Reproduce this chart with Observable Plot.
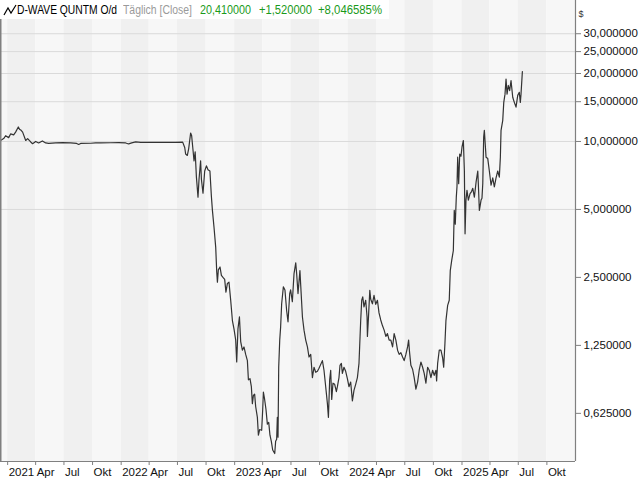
<!DOCTYPE html>
<html>
<head>
<meta charset="utf-8">
<script src="https://cdn.jsdelivr.net/npm/d3@7"></script>
<script src="https://cdn.jsdelivr.net/npm/@observablehq/plot@0.6"></script>
<style>
html, body { margin: 0; padding: 0; background: #fff; }
#wrap { position: relative; width: 640px; height: 480px; overflow: hidden; font-family: "Liberation Sans", Arial, sans-serif; }
#chart { position: absolute; left: 0; top: 0; }
#hdr { position: absolute; left: 0; top: 0; width: 389px; height: 19px; background: #fff; font-size: 12px; }
#hdr span { position: absolute; top: 3px; white-space: nowrap; line-height: 14px; transform-origin: 0 50%; }
#hdr svg { position: absolute; left: 3px; top: 3px; }
svg [aria-label^="y-axis"] line, svg [aria-label="y-axis tick"] path,
svg [aria-label^="x-axis"] line, svg [aria-label="x-axis tick"] path { stroke: #808080; }
</style>
</head>
<body>
<div id="wrap">
  <div id="chart"></div>
  <div id="hdr">
    <svg width="14" height="14" viewBox="0 0 14 14"><polyline points="1,12 5,5 8,10 13,2" fill="none" stroke="#000" stroke-width="1.2"/></svg>
    <span id="hName" style="left:17px;color:#000;"></span>
    <span id="hPeriod" style="left:123px;color:#9a9a9a;"></span>
    <span id="hLast" style="left:200px;color:#1a9a1a;"></span>
    <span id="hChange" style="left:259px;color:#1a9a1a;"></span>
    <span id="hPct" style="left:318px;color:#1a9a1a;"></span>
  </div>
</div>
<script>
// Header texts
const titleName = "D-WAVE QUNTM O/d";
const titlePeriod = "Täglich [Close]";
const lastValue = "20,410000";
const changeAbs = "+1,520000";
const changePct = "+8,046585%";
const currency = "$";

// Series: time as decimal years, daily close in USD
const years = [
2020.938,2020.965,2020.982,2021.009,2021.026,2021.053,2021.070,2021.094,2021.106,2021.115,
2021.132,2021.159,2021.176,2021.203,2021.220,2021.247,2021.273,2021.306,2021.335,2021.361,
2021.423,2021.485,2021.555,2021.608,2021.626,2021.643,2021.731,2021.775,2021.819,2021.908,
2021.978,2022.040,2022.066,2022.093,2022.128,2022.172,2022.260,2022.348,2022.436,2022.480,
2022.542,2022.560,2022.568,2022.583,2022.595,2022.612,2022.621,2022.630,2022.642,2022.652,
2022.663,2022.677,2022.686,2022.700,2022.707,2022.721,2022.736,2022.751,2022.765,2022.782,
2022.795,2022.804,2022.818,2022.833,2022.842,2022.848,2022.856,2022.871,2022.883,2022.897,
2022.912,2022.923,2022.936,2022.950,2022.965,2022.980,2022.994,2023.009,2023.018,2023.029,
2023.042,2023.053,2023.068,2023.082,2023.097,2023.112,2023.121,2023.135,2023.147,2023.156,
2023.165,2023.176,2023.185,2023.200,2023.209,2023.220,2023.238,2023.247,2023.253,2023.264,
2023.276,2023.288,2023.300,2023.311,2023.323,2023.335,2023.353,2023.361,2023.370,2023.376,
2023.382,2023.388,2023.397,2023.405,2023.414,2023.429,2023.443,2023.458,2023.470,2023.485,
2023.493,2023.508,2023.523,2023.538,2023.546,2023.558,2023.575,2023.582,2023.597,2023.611,
2023.626,2023.641,2023.655,2023.670,2023.685,2023.699,2023.714,2023.729,2023.743,2023.773,
2023.787,2023.802,2023.817,2023.826,2023.837,2023.846,2023.855,2023.866,2023.881,2023.896,
2023.905,2023.919,2023.928,2023.940,2023.949,2023.963,2023.978,2023.993,2024.007,2024.022,
2024.037,2024.051,2024.066,2024.081,2024.095,2024.110,2024.119,2024.128,2024.139,2024.154,
2024.166,2024.169,2024.178,2024.190,2024.198,2024.213,2024.227,2024.242,2024.257,2024.271,
2024.286,2024.301,2024.316,2024.331,2024.345,2024.360,2024.375,2024.390,2024.404,2024.419,
2024.434,2024.448,2024.463,2024.478,2024.492,2024.507,2024.522,2024.531,2024.539,2024.551,
2024.566,2024.580,2024.595,2024.610,2024.624,2024.639,2024.654,2024.668,2024.683,2024.698,
2024.712,2024.727,2024.742,2024.756,2024.771,2024.777,2024.786,2024.800,2024.815,2024.830,
2024.839,2024.850,2024.859,2024.874,2024.888,2024.897,2024.910,2024.924,2024.932,2024.941,
2024.950,2024.956,2024.962,2024.971,2024.980,2024.991,2025.000,2025.012,2025.021,2025.027,
2025.035,2025.044,2025.056,2025.071,2025.084,2025.095,2025.109,2025.124,2025.139,2025.144,
2025.153,2025.168,2025.176,2025.183,2025.191,2025.197,2025.212,2025.227,2025.241,2025.256,
2025.271,2025.285,2025.300,2025.315,2025.329,2025.338,2025.344,2025.359,2025.368,2025.379,
2025.388,2025.397,2025.408,2025.420,2025.432,2025.447,2025.461,2025.476,2025.491,2025.505,
2025.514,2025.520,2025.532
];
const closes = [
10.1,10.3,10.6,10.4,10.8,10.7,11.0,11.6,11.3,11.25,
11.0,10.1,10.3,9.95,9.77,10.0,9.85,10.05,9.85,9.8,
9.85,9.88,9.85,9.8,9.7,9.8,9.82,9.85,9.86,9.87,
9.88,9.85,9.75,9.85,9.95,9.9,9.9,9.9,9.9,9.9,
9.93,9.4,8.8,8.67,9.3,10.9,10.6,9.5,8.2,9.0,
6.95,5.67,6.8,8.2,6.8,5.9,7.4,7.8,7.5,7.4,
5.7,4.95,4.17,3.4,2.64,2.38,2.7,2.78,2.55,2.5,
2.45,2.15,2.35,2.38,1.98,1.61,1.48,1.32,1.055,1.48,
1.67,1.3,1.19,1.23,1.14,1.07,0.88,0.89,0.82,0.69,
0.75,0.76,0.67,0.6,0.5,0.53,0.526,0.65,0.776,0.72,
0.65,0.56,0.57,0.5,0.47,0.43,0.415,0.47,0.48,0.6,
0.49,1.0,1.32,1.51,1.91,2.27,2.2,1.78,1.59,2.12,
2.2,1.95,2.6,2.9,2.6,2.12,2.68,2.3,1.67,1.46,
1.32,1.23,1.11,1.14,0.9,1.0,0.95,0.96,0.99,1.07,
0.97,0.82,0.69,0.6,0.88,0.97,0.72,0.85,0.84,0.78,
0.82,0.9,1.02,1.04,0.94,1.0,0.96,0.89,0.82,0.86,
0.71,0.79,0.84,0.9,1.04,1.61,1.98,2.05,1.85,1.98,
1.67,1.37,1.65,2.19,2.0,1.91,2.08,1.9,1.98,1.74,
1.62,1.53,1.46,1.37,1.41,1.32,1.32,1.23,1.41,1.32,
1.19,1.14,1.16,1.11,1.07,1.14,1.23,1.32,1.17,1.02,
0.98,0.9,0.8,0.86,0.97,1.055,1.0,0.94,0.85,1.0,
0.97,0.9,0.97,0.92,0.97,0.87,1.04,1.19,1.19,1.1,
1.0,1.27,1.61,1.88,1.98,2.68,2.98,3.29,4.95,4.3,
5.67,6.3,8.52,6.5,8.8,8.6,9.43,10.1,7.4,3.9,
5.5,6.07,5.5,5.87,6.0,6.2,5.67,6.6,7.4,6.5,
4.95,5.5,5.6,6.5,10.45,11.2,8.52,8.4,7.4,6.4,
6.9,6.3,6.9,7.4,6.95,8.52,11.2,12.4,14.9,16.2,
18.9,16.2,17.7,16.8,18.6,15.7,14.9,14.2,16.0,16.5,
14.9,16.2,20.41
];

// Axis ticks and labels
const xTickDates = ["2021-01-01","2021-04-01","2021-07-01","2021-10-01",
  "2022-01-01","2022-04-01","2022-07-01","2022-10-01",
  "2023-01-01","2023-04-01","2023-07-01","2023-10-01",
  "2024-01-01","2024-04-01","2024-07-01","2024-10-01",
  "2025-01-01","2025-04-01","2025-07-01","2025-10-01"];
const xTickLabels = ["2021","Apr","Jul","Okt","2022","Apr","Jul","Okt",
  "2023","Apr","Jul","Okt","2024","Apr","Jul","Okt","2025","Apr","Jul","Okt"];
const yTicks = [0.625, 1.25, 2.5, 5, 10, 15, 20, 25, 30];
const yTickLabels = ["0,625000","1,250000","2,500000","5,000000","10,000000","15,000000","20,000000","25,000000","30,000000"];
const gridValues = [5, 10, 15, 20, 25, 30];
const quarterEdges = ["2020-10-01", ...xTickDates, "2026-01-01"];
const xDomain = ["2020-12-09", "2026-01-01"];
const yDomain = [0.3825, 42.1];

// header
const headerParts = [
  ["hName", titleName, 100],
  ["hPeriod", titlePeriod, 69],
  ["hLast", lastValue, 51],
  ["hChange", changeAbs, 53],
  ["hPct", changePct, 64]
];
for (const [id, txt, w] of headerParts) {
  const el = document.getElementById(id);
  el.textContent = txt;
  const natural = el.getBoundingClientRect().width;
  if (natural > 0) el.style.transform = `scaleX(${w / natural})`;
}

function fromDecimalYear(t) {
  const y = Math.floor(t);
  const a = Date.UTC(y, 0, 1), b = Date.UTC(y + 1, 0, 1);
  return new Date(a + (t - y) * (b - a));
}
const series = years.map((t, i) => ({date: fromDecimalYear(t), close: closes[i]}));
const bands = quarterEdges.slice(0, -1).map((d, i) => ({
  start: new Date(d), end: new Date(quarterEdges[i + 1]), shade: i % 2
}));
const xTicks = xTickDates.map((d, i) => ({date: new Date(d), label: xTickLabels[i]}));
const yLabels = yTicks.map((v, i) => ({value: v, label: yTickLabels[i]}));
const xEnd = new Date(xDomain[1]);

const chart = Plot.plot({
  width: 640,
  height: 480,
  marginLeft: 0,
  marginRight: 65,
  marginTop: 0,
  marginBottom: 19,
  style: {fontFamily: "'Liberation Sans', Arial, sans-serif", fontSize: "11.5px", color: "#111", background: "transparent"},
  x: {type: "utc", domain: xDomain.map(d => new Date(d)), ticks: xTicks.map(d => d.date), tickFormat: () => "", tickSize: 4, label: null},
  y: {type: "log", domain: yDomain, axis: "right", ticks: yTicks, tickFormat: () => "", tickSize: 5, label: null},
  marks: [
    Plot.rect(bands, {x1: "start", x2: "end", fill: d => d.shade ? "#f0f0f0" : "#f7f7f7", clip: true}),
    Plot.ruleY(gridValues, {stroke: "#dadada", strokeWidth: 1}),
    Plot.line(series, {x: "date", y: "close", stroke: "#333", strokeWidth: 1.2}),
    Plot.ruleX([new Date(xDomain[0])], {stroke: "#808080", strokeWidth: 2}),
    Plot.ruleX([xEnd], {stroke: "#808080", strokeWidth: 1.2}),
    Plot.ruleY([yDomain[0]], {stroke: "#808080", strokeWidth: 1.2}),
    Plot.text(xTicks, {x: "date", y: () => yDomain[0], text: "label", textAnchor: "start", dx: 1, dy: 11, fill: "#111", fontSize: 11.5}),
    Plot.text(yLabels, {x: () => xEnd, y: "value", text: "label", textAnchor: "start", dx: 8, fill: "#111", fontSize: 11.5}),
    Plot.text([currency], {frameAnchor: "top-right", text: d => d, textAnchor: "start", dx: 3, dy: 10, fontSize: 9, fill: "#333"})
  ]
});
document.getElementById("chart").appendChild(chart);
</script>
</body>
</html>
